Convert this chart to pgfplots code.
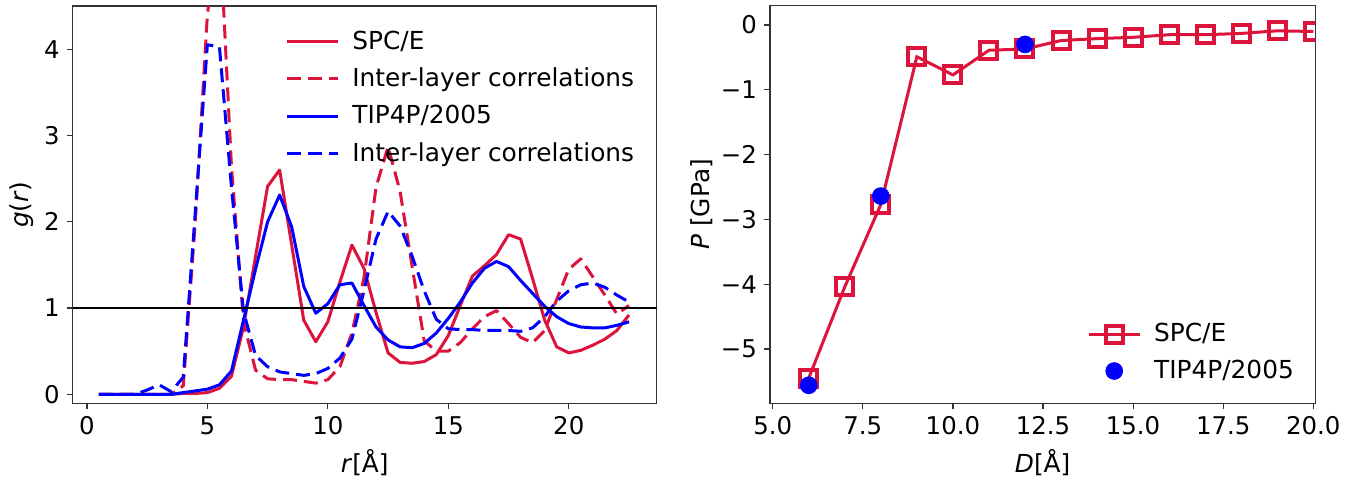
\documentclass[border=0pt]{standalone}
\usepackage{fontspec}
\setmainfont{DejaVu Sans}
\usepackage{pgfplots}
\pgfplotsset{compat=1.18}
\definecolor{crim}{HTML}{DC143C}
\definecolor{pblue}{HTML}{0000FF}

\pgfplotsset{
  base/.style={
    scale only axis,
    anchor=south west,
    axis line style={black!80, line width=0.7pt},
    tick pos=left,
    tick align=outside,
    major tick length=3pt,
    tick style={black!80, line width=0.6pt},
    font=\fontsize{12.4}{14.9}\selectfont,
    ticklabel style={font=\fontsize{12.2}{14.6}\selectfont},
    legend cell align=left,
  },
}

\begin{document}
\begin{tikzpicture}
\path[use as bounding box] (0,0) rectangle (681pt,239.5pt);

% left panel: g(r)
\begin{axis}[base,
  at={(36.35pt,37.85pt)}, width=292pt, height=198.65pt,
  xmin=-0.59, xmax=23.65, ymin=-0.104, ymax=4.5,
  xtick={0,5,10,15,20}, xticklabels={0,5,10,15,20},
  ytick={0,1,2,3,4}, yticklabels={0,1,2,3,4},
  xlabel={\textit{r}[Å]}, ylabel={\textit{g}(\textit{r})},
  xlabel style={at={(axis description cs:0.5,-0.150)}, anchor=center},
  ylabel style={at={(axis description cs:-0.0873,0.5)}, anchor=center},
  legend style={draw=none, fill=none, at={(axis description cs:0.3635,0.948)},
    anchor=north west, inner sep=0pt, row sep=3.8pt, column sep=4.5pt,
    font=\fontsize{12.4}{14.9}\selectfont},
  legend image code/.code={\draw[#1] (0pt,0pt) -- (25.5pt,0pt);},
  every axis plot/.append style={line width=1.5pt, line join=round},
]
\addplot[crim] coordinates {
(0.5,0) (1.0,0) (1.5,0) (2.0,0) (2.5,0) (3.0,0) (3.5,0) (4.0,0.01) (4.5,0.01)
(5.0,0.02) (5.5,0.07) (6.0,0.21) (6.5,0.78) (7.0,1.6) (7.5,2.41) (8.0,2.6)
(8.5,1.73) (9.0,0.86) (9.5,0.61) (10.0,0.84) (10.5,1.3) (11.0,1.73) (11.5,1.46)
(12.0,0.95) (12.5,0.48) (13.0,0.37) (13.5,0.36) (14.0,0.38) (14.5,0.46) (15.0,0.68)
(15.5,1.03) (16.0,1.37) (16.5,1.49) (17.0,1.62) (17.5,1.85) (18.0,1.8) (18.5,1.34)
(19.0,0.86) (19.5,0.55) (20.0,0.48) (20.5,0.51) (21.0,0.57) (21.5,0.64) (22.0,0.74)
(22.5,0.92)};
\addlegendentry{SPC/E}
\addplot[crim, dash pattern=on 7pt off 3.5pt] coordinates {
(0.5,0) (1.0,0) (1.5,0) (2.0,0) (2.5,0) (3.0,0) (3.5,0) (4.0,0.1) (4.5,2.0)
(5.0,4.4) (5.5,5.45) (6.0,2.64) (6.5,0.84) (7.0,0.28) (7.5,0.18) (8.0,0.17)
(8.5,0.17) (9.0,0.15) (9.5,0.13) (10.0,0.17) (10.5,0.32) (11.0,0.71) (11.5,1.35)
(12.0,2.4) (12.5,2.87) (13.0,2.35) (13.5,1.48) (14.0,0.62) (14.5,0.5) (15.0,0.5)
(15.5,0.6) (16.0,0.76) (16.5,0.9) (17.0,0.97) (17.5,0.82) (18.0,0.66) (18.5,0.6)
(19.0,0.74) (19.5,1.1) (20.0,1.45) (20.5,1.57) (21.0,1.36) (21.5,1.15) (22.0,0.93)
(22.5,1.03)};
\addlegendentry{Inter-layer correlations}
\addplot[pblue] coordinates {
(0.5,0) (1.0,0) (1.5,0) (2.0,0) (2.5,0) (3.0,0) (3.5,0) (4.0,0.02) (4.5,0.04)
(5.0,0.06) (5.5,0.11) (6.0,0.27) (6.5,0.86) (7.0,1.45) (7.5,2.0) (8.0,2.31)
(8.5,1.94) (9.0,1.25) (9.5,0.94) (10.0,1.05) (10.5,1.27) (11.0,1.29) (11.5,1.03)
(12.0,0.78) (12.5,0.63) (13.0,0.55) (13.5,0.54) (14.0,0.59) (14.5,0.71) (15.0,0.88)
(15.5,1.07) (16.0,1.29) (16.5,1.46) (17.0,1.54) (17.5,1.48) (18.0,1.32) (18.5,1.17)
(19.0,1.02) (19.5,0.9) (20.0,0.82) (20.5,0.78) (21.0,0.77) (21.5,0.77) (22.0,0.8)
(22.5,0.84)};
\addlegendentry{TIP4P/2005}
\addplot[pblue, dash pattern=on 7pt off 3.5pt] coordinates {
(0.5,0) (1.0,0) (1.5,0) (2.0,0) (2.5,0.05) (3.0,0.11) (3.5,0.03) (4.0,0.2) (4.5,2.12)
(5.0,4.05) (5.5,4.03) (6.0,2.4) (6.5,0.96) (7.0,0.45) (7.5,0.32) (8.0,0.26)
(8.5,0.24) (9.0,0.22) (9.5,0.24) (10.0,0.3) (10.5,0.42) (11.0,0.64) (11.5,1.2)
(12.0,1.8) (12.5,2.12) (13.0,1.95) (13.5,1.6) (14.0,1.2) (14.5,0.87) (15.0,0.76)
(15.5,0.75) (16.0,0.75) (16.5,0.74) (17.0,0.74) (17.5,0.74) (18.0,0.73) (18.5,0.77)
(19.0,0.9) (19.5,1.08) (20.0,1.2) (20.5,1.27) (21.0,1.29) (21.5,1.24) (22.0,1.15)
(22.5,1.07)};
\addlegendentry{Inter-layer correlations}
\addplot[black, line width=1pt, forget plot] coordinates {(-0.59,1) (23.65,1)};
\end{axis}

% right panel: pressure
\begin{axis}[base,
  at={(385pt,37.85pt)}, width=272.65pt, height=199pt,
  xmin=4.925, xmax=20.055, ymin=-5.838, ymax=0.304,
  xtick={5,7.5,10,12.5,15,17.5,20},
  xticklabels={5.0,7.5,10.0,12.5,15.0,17.5,20.0},
  ytick={-5,-4,-3,-2,-1,0}, yticklabels={−5,−4,−3,−2,−1,0},
  xlabel={\textit{D}[Å]}, ylabel={\textit{P} [GPa]},
  xlabel style={at={(axis description cs:0.5,-0.150)}, anchor=center},
  ylabel style={at={(axis description cs:-0.1253,0.5)}, anchor=center},
  clip marker paths=true,
  legend style={draw=none, fill=none, at={(axis description cs:0.581,0.212)},
    anchor=north west, inner sep=0pt, row sep=3.8pt, column sep=4.5pt,
    font=\fontsize{12.4}{14.9}\selectfont},
  legend image code/.code={\draw[mark repeat=2,mark phase=2,#1]
    plot coordinates {(0pt,0pt) (12.75pt,0pt) (25.5pt,0pt)};},
]
\addplot[crim, line width=1.5pt, mark=square, mark size=4.25pt,
  mark options={line width=2pt, solid}] coordinates {
(6,-5.45) (7,-4.04) (8,-2.77) (9,-0.49) (10,-0.77) (11,-0.39) (12,-0.37)
(13,-0.24) (14,-0.21) (15,-0.19) (16,-0.15) (17,-0.15) (18,-0.13) (19,-0.09)
(20,-0.10)};
\addlegendentry{SPC/E}
\addplot[only marks, mark=*, mark size=4.2pt, pblue, mark options={draw=none, fill=pblue}]
coordinates {(6,-5.56) (8,-2.64) (12,-0.30)};
\addlegendentry{TIP4P/2005}
\end{axis}
\end{tikzpicture}
\end{document}
